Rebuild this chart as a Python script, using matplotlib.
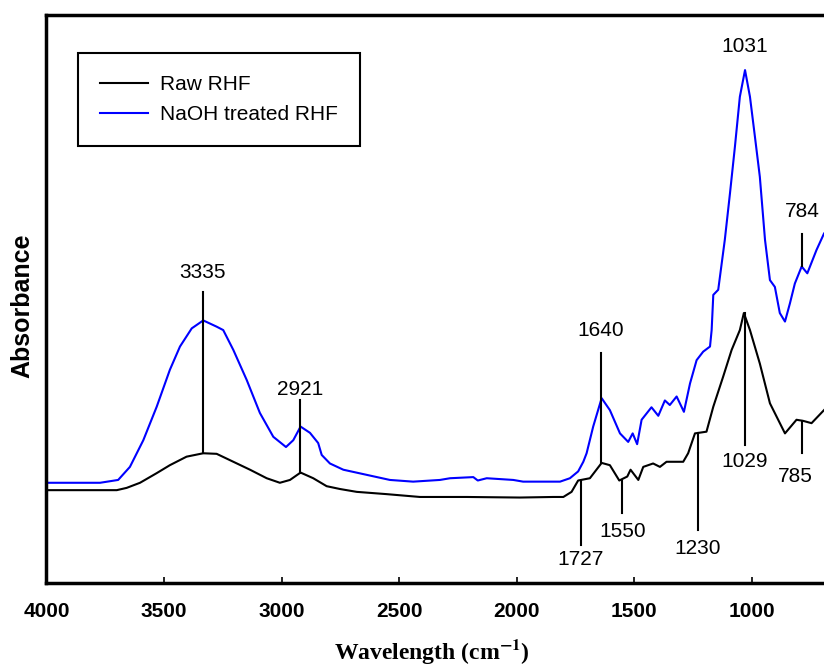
import numpy as np
import matplotlib.pyplot as plt

plt.rcParams['font.family'] = ['Liberation Sans', 'DejaVu Sans']
plt.rcParams['mathtext.fontset'] = 'stix'

# Raw RHF spectrum (wavenumber cm-1, absorbance a.u.)
raw_wn = [4000, 3786, 3701, 3659, 3602, 3531, 3475, 3404, 3333, 3276, 3205, 3134,
          3063, 3007, 2964, 2919, 2865, 2808, 2751, 2680, 2553, 2411, 2212, 1986,
          1844, 1801, 1766, 1738, 1688, 1638, 1603, 1563, 1529, 1515, 1482, 1461,
          1419, 1390, 1362, 1291, 1270, 1241, 1192, 1163, 1121, 1085, 1050, 1033,
          1007, 965, 922, 858, 809, 780, 745, 692]
raw_abs = [0.163, 0.163, 0.163, 0.167, 0.176, 0.193, 0.207, 0.222, 0.228, 0.227, 0.213, 0.199,
           0.184, 0.176, 0.181, 0.194, 0.184, 0.170, 0.165, 0.160, 0.156, 0.151, 0.151, 0.150,
           0.151, 0.151, 0.160, 0.180, 0.184, 0.211, 0.207, 0.180, 0.187, 0.199, 0.181, 0.204,
           0.210, 0.204, 0.213, 0.213, 0.228, 0.263, 0.266, 0.310, 0.363, 0.410, 0.445, 0.475,
           0.445, 0.386, 0.316, 0.263, 0.287, 0.285, 0.281, 0.304]

# NaOH treated RHF spectrum
naoh_wn = [4000, 3772, 3695, 3645, 3588, 3531, 3475, 3432, 3382, 3333, 3276, 3248,
           3205, 3148, 3092, 3035, 2981, 2950, 2919, 2879, 2844, 2829, 2794, 2737,
           2638, 2539, 2440, 2326, 2283, 2184, 2165, 2127, 2014, 1972, 1815, 1773,
           1738, 1716, 1702, 1674, 1638, 1603, 1560, 1525, 1506, 1487, 1468, 1426,
           1397, 1369, 1348, 1319, 1288, 1262, 1234, 1206, 1177, 1170, 1163, 1142,
           1114, 1092, 1071, 1050, 1028, 1007, 986, 965, 943, 922, 901, 880,
           858, 837, 816, 787, 763, 724, 692]
naoh_abs = [0.176, 0.176, 0.181, 0.204, 0.251, 0.310, 0.375, 0.416, 0.448, 0.462, 0.451, 0.445,
            0.410, 0.357, 0.299, 0.257, 0.239, 0.251, 0.275, 0.264, 0.246, 0.225, 0.210, 0.199,
            0.190, 0.181, 0.178, 0.181, 0.184, 0.186, 0.180, 0.184, 0.181, 0.178, 0.178, 0.184,
            0.196, 0.213, 0.228, 0.275, 0.325, 0.304, 0.263, 0.248, 0.263, 0.244, 0.287, 0.309,
            0.294, 0.321, 0.313, 0.328, 0.301, 0.351, 0.392, 0.407, 0.416, 0.445, 0.507, 0.516,
            0.604, 0.686, 0.768, 0.856, 0.903, 0.856, 0.786, 0.715, 0.604, 0.533, 0.521, 0.475,
            0.460, 0.492, 0.527, 0.557, 0.545, 0.586, 0.615]

tick_vals = [4000, 3500, 3000, 2500, 2000, 1500, 1000]

fig = plt.figure(figsize=(8.24, 6.67), dpi=100)
ax = fig.add_axes([0.0564, 0.1264, 0.9436, 0.8511])

ax.plot(raw_wn, raw_abs, color='black', lw=1.5, label='Raw RHF')
ax.plot(naoh_wn, naoh_abs, color='#0000ff', lw=1.5, label='NaOH treated RHF')

# peak marks: (wavenumber, text, line top, line bottom, text y)
marks = [
    (3335, '3335', 0.512, 0.228, 0.546),
    (2921, '2921', 0.322, 0.194, 0.341),
    (1640, '1640', 0.404, 0.211, 0.445),
    (1727, '1727', 0.180, 0.066, 0.040),
    (1550, '1550', 0.180, 0.122, 0.090),
    (1230, '1230', 0.263, 0.093, 0.061),
    (1029, '1029', 0.475, 0.243, 0.213),
    (785, '785', 0.285, 0.228, 0.187),
    (784, '784', 0.615, 0.557, 0.654),
]
for wn, txt, y0, y1, yt in marks:
    ax.plot([wn, wn], [y1, y0], color='black', lw=1.5)
    dx = 30 if txt == '785' else 0
    ax.text(wn + dx, yt, txt, ha='center', va='center', fontsize=15)
ax.text(1031, 0.944, '1031', ha='center', va='center', fontsize=15)

ax.set_xlim(4000, 692)
ax.set_ylim(0, 1)
ax.set_xticks(tick_vals)
ax.set_xticklabels([str(v) for v in tick_vals], fontweight='bold', fontsize=15)
ax.tick_params(axis='x', direction='in', length=4, width=1.2, pad=14)
ax.set_yticks([])

for s in ['left', 'bottom', 'top']:
    ax.spines[s].set_linewidth(2.5)
ax.spines['right'].set_visible(False)

ax.set_xlabel(r'Wavelength (cm$^{\mathbf{-1}}$)', fontfamily='Liberation Serif',
              fontweight='bold', fontsize=17, va='center')
ax.xaxis.set_label_coords(0.496, -0.122)
ax.set_ylabel('Absorbance', fontweight='bold', fontsize=18, va='center')
ax.yaxis.set_label_coords(-0.0315, 0.487)

leg = ax.legend(loc='upper left', bbox_to_anchor=(0.0405, 0.933), borderaxespad=0,
                fontsize=15, fancybox=False, framealpha=1, edgecolor='black',
                handlelength=2.3, handletextpad=0.6, labelspacing=0.55, borderpad=1.05)
leg.get_frame().set_linewidth(1.5)

fig.savefig('out.png', dpi=100)
